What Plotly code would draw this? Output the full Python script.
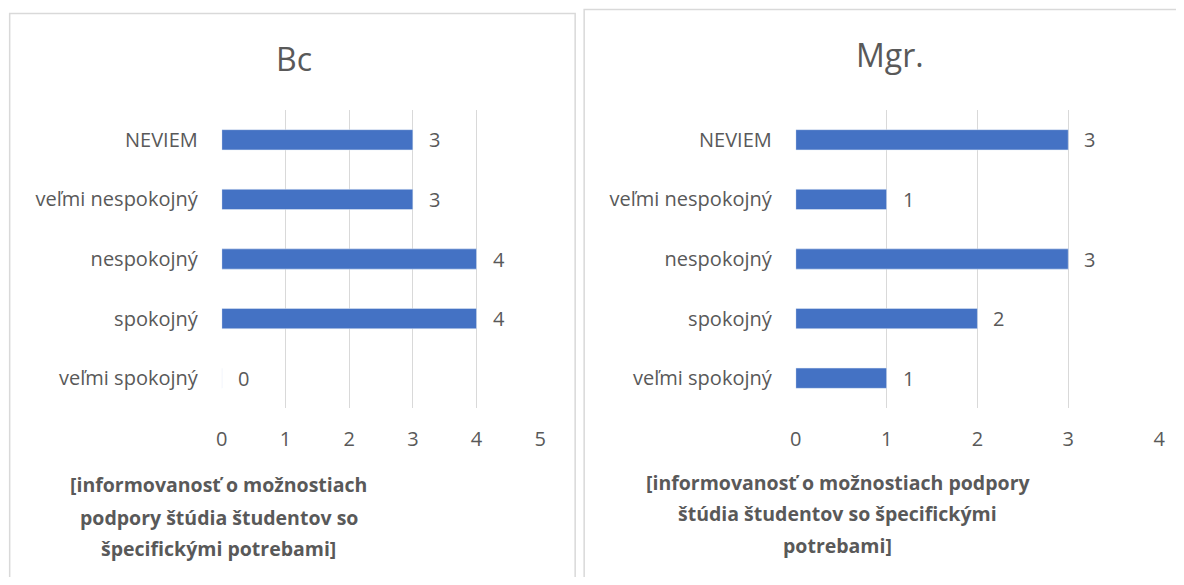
import plotly.graph_objects as go

categories = ["veľmi spokojný", "spokojný", "nespokojný", "veľmi nespokojný", "NEVIEM"]
bc_values = [0, 4, 4, 3, 3]
mgr_values = [1, 2, 3, 1, 3]
bc_ticks = [0, 1, 2, 3, 4, 5]
mgr_ticks = [0, 1, 2, 3, 4]
panel_titles = ["Bc", "Mgr."]
axis_title_bc = ["[informovanosť o možnostiach", "podpory štúdia študentov so", "špecifickými potrebami]"]
axis_title_mgr = ["[informovanosť o možnostiach podpory", "štúdia študentov so špecifickými", "potrebami]"]

# page is 1184x585; browser body has an 8px margin, so the figure is 16px smaller
OFF = 8
W, H = 1184 - 2 * OFF, 585 - 2 * OFF
FONT = "Open Sans, sans-serif"
TXT = "#595959"
BAR = "#4472C4"
GRID = "#D9D9D9"
SX, BX = 0.9915, 4.9  # observed horizontal capture transform


def px(x):
    page = (x - BX) / SX
    return (page - OFF) / W


def py(y):
    return 1 - (y - OFF) / H


fig = go.Figure()
fig.add_trace(go.Bar(y=categories, x=bc_values, orientation="h", marker_color=BAR,
                     width=0.34, xaxis="x", yaxis="y", showlegend=False, hoverinfo="x+y"))
fig.add_trace(go.Bar(y=categories, x=mgr_values, orientation="h", marker_color=BAR,
                     width=0.34, xaxis="x2", yaxis="y2", showlegend=False, hoverinfo="x+y"))

lblfont = dict(size=20, color=TXT, family=FONT)
annotations = []
for vals, xr, yr in [(bc_values, "x", "y"), (mgr_values, "x2", "y2")]:
    for c, v in zip(categories, vals):
        annotations.append(dict(x=v, y=c, xref=xr, yref=yr, text=str(v), showarrow=False,
                                xanchor="left", xshift=14, font=lblfont))

annotations += [
    dict(x=px(293), y=py(58), xref="paper", yref="paper", text=panel_titles[0], showarrow=False,
         font=dict(size=32, color=TXT, family=FONT), xanchor="center", yanchor="middle"),
    dict(x=px(890), y=py(55), xref="paper", yref="paper", text=panel_titles[1], showarrow=False,
         font=dict(size=32, color=TXT, family=FONT), xanchor="center", yanchor="middle"),
]
for lines, cx, ys in [(axis_title_bc, 218, [485, 517, 548]), (axis_title_mgr, 838, [482, 513, 545])]:
    for line, yy in zip(lines, ys):
        annotations.append(dict(x=px(cx), y=py(yy), xref="paper", yref="paper",
                                text="<b>" + line + "</b>", showarrow=False,
                                font=dict(size=19.5, color=TXT, family=FONT),
                                xanchor="center", yanchor="middle"))

shapes = [
    dict(type="rect", xref="paper", yref="paper", x0=px(8.5), x1=px(575), y0=py(620), y1=py(13.5),
         line=dict(color="#D9D9D9", width=1.5), fillcolor="rgba(0,0,0,0)"),
    dict(type="rect", xref="paper", yref="paper", x0=px(584), x1=px(1220), y0=py(620), y1=py(9.5),
         line=dict(color="#D9D9D9", width=1.5), fillcolor="rgba(0,0,0,0)"),
]

tickfont = dict(size=20, color=TXT, family=FONT)
ydom = [py(408), py(110)]

fig.update_layout(
    width=W, height=H, margin=dict(l=0, r=0, t=0, b=0),
    paper_bgcolor="white", plot_bgcolor="white",
    font=dict(family=FONT, color=TXT),
    bargap=0.66,
    xaxis=dict(domain=[px(221), px(540)], range=[0, 5], tickvals=bc_ticks, showgrid=True,
               gridcolor=GRID, gridwidth=1, zeroline=False, showline=False, tickfont=tickfont,
               ticklabelstandoff=17, anchor="y", fixedrange=True),
    yaxis=dict(domain=ydom, type="category", categoryorder="array", categoryarray=categories,
               showgrid=False, zeroline=False, showline=False, tickfont=tickfont,
               ticklabelstandoff=23, anchor="x", fixedrange=True),
    xaxis2=dict(domain=[px(796), px(1160)], range=[0, 4], tickvals=mgr_ticks, showgrid=True,
                gridcolor=GRID, gridwidth=1, zeroline=False, showline=False, tickfont=tickfont,
                ticklabelstandoff=17, anchor="y2", fixedrange=True),
    yaxis2=dict(domain=ydom, type="category", categoryorder="array", categoryarray=categories,
                showgrid=False, zeroline=False, showline=False, tickfont=tickfont,
                ticklabelstandoff=23, anchor="x2", fixedrange=True),
    annotations=annotations,
    shapes=shapes,
)

fig.write_html("out.html")
